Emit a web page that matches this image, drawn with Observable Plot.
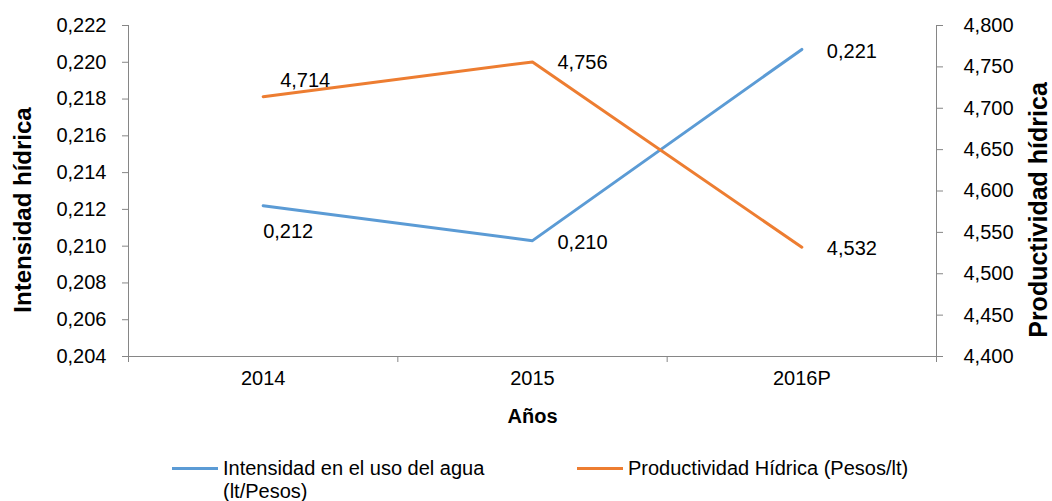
<!DOCTYPE html>
<html>
<head>
<meta charset="utf-8">
<script src="https://cdn.jsdelivr.net/npm/d3@7"></script>
<script src="https://cdn.jsdelivr.net/npm/@observablehq/plot@0.6"></script>
<style>
  html, body { margin: 0; padding: 0; background: #fff; }
  body { width: 1052px; height: 501px; position: relative; overflow: hidden; font-family: "Liberation Sans", Arial, sans-serif; }
  #legend { position: absolute; top: 457px; left: 0; width: 1052px; height: 44px; font-size: 20px; line-height: 23px; color: #000; }
  .item { position: absolute; top: 0; display: flex; align-items: flex-start; }
  .sw { width: 46px; height: 3px; margin-top: 10px; margin-right: 5px; flex: none; }
  .txt { max-width: 300px; }
</style>
</head>
<body>
<div id="chart"></div>
<div id="legend"></div>
<script>
// ---- data ----
const years = ["2014", "2015", "2016P"];
const intensidad = [0.2122, 0.2103, 0.2207];      // lt/Pesos (left axis)
const productividad = [4.714, 4.756, 4.532];      // Pesos/lt (right axis)
const leftTicks = [0.204, 0.206, 0.208, 0.210, 0.212, 0.214, 0.216, 0.218, 0.220, 0.222];
const rightTicks = [4.400, 4.450, 4.500, 4.550, 4.600, 4.650, 4.700, 4.750, 4.800];
const seriesNames = ["Intensidad en el uso del agua (lt/Pesos)", "Productividad Hídrica (Pesos/lt)"];
const leftTitle = "Intensidad hídrica";
const rightTitle = "Productividad hídrica";
const xTitle = "Años";

// ---- styling ----
const blue = "#5B9BD5";
const orange = "#ED7D31";
const axisColor = "#868686";
const fs = 20;

const locale = d3.formatLocale({decimal: ",", thousands: "."});
const fmt = locale.format(".3f");

const L0 = leftTicks[0], L1 = leftTicks[leftTicks.length - 1];
const R0 = rightTicks[0], R1 = rightTicks[rightTicks.length - 1];
const toLeft = v => L0 + (v - R0) / (R1 - R0) * (L1 - L0);
const toRight = v => R0 + (v - L0) / (L1 - L0) * (R1 - R0);

const blueRows = years.map((y, i) => ({i, year: y, v: intensidad[i], yv: intensidad[i]}));
const orangeRows = years.map((y, i) => ({i, year: y, v: productividad[i], yv: toLeft(productividad[i])}));
const bounds = d3.range(years.length + 1).map(k => k - 0.5);

const chart = Plot.plot({
  width: 1052,
  height: 445,
  marginTop: 25,
  marginBottom: 89,
  marginLeft: 128,
  marginRight: 116,
  style: {fontFamily: "'Liberation Sans', Arial, sans-serif", fontSize: fs + "px", color: "#000", background: "#fff"},
  x: {domain: [bounds[0], bounds[bounds.length - 1]]},
  y: {domain: [L0, L1]},
  marks: [
    Plot.ruleY([L0], {stroke: axisColor, strokeWidth: 1}),
    Plot.ruleX([bounds[0], bounds[bounds.length - 1]], {stroke: axisColor, strokeWidth: 1}),
    Plot.axisY(leftTicks, {anchor: "left", tickSize: 6, tickPadding: 16, tickFormat: d => fmt(d), stroke: axisColor, fill: "#000", fontSize: fs, label: null}),
    Plot.axisY(rightTicks.map(toLeft), {anchor: "right", tickSize: 6, tickPadding: 21, tickFormat: d => fmt(toRight(d)), stroke: axisColor, fill: "#000", fontSize: fs, label: null}),
    Plot.axisX(bounds, {anchor: "bottom", tickSize: 6, tickFormat: () => "", stroke: axisColor, label: null}),
    Plot.axisX(years.map((y, i) => i), {anchor: "bottom", tickSize: 0, tickPadding: 14, tickFormat: i => years[i], fill: "#000", fontSize: fs, label: null}),
    Plot.line(blueRows, {x: "i", y: "yv", stroke: blue, strokeWidth: 3}),
    Plot.line(orangeRows, {x: "i", y: "yv", stroke: orange, strokeWidth: 3}),
    // data labels
    Plot.text(blueRows.filter(d => d.i === 0), {x: "i", y: "yv", text: d => fmt(d.v), textAnchor: "start", dx: 0, dy: 26, fontSize: fs, fill: "#000"}),
    Plot.text(blueRows.filter(d => d.i > 0), {x: "i", y: "yv", text: d => fmt(d.v), textAnchor: "start", dx: 25, dy: 2, fontSize: fs, fill: "#000"}),
    Plot.text(orangeRows.filter(d => d.i === 0), {x: "i", y: "yv", text: d => fmt(d.v), textAnchor: "start", dx: 17, dy: -16, fontSize: fs, fill: "#000"}),
    Plot.text(orangeRows.filter(d => d.i > 0), {x: "i", y: "yv", text: d => fmt(d.v), textAnchor: "start", dx: 25, dy: 1, fontSize: fs, fill: "#000"}),
    // axis titles
    Plot.text([leftTitle], {frameAnchor: "left", text: d => d, rotate: -90, textAnchor: "middle", dx: -105, dy: 19, fontSize: 24, fontWeight: "bold", fill: "#000"}),
    Plot.text([rightTitle], {frameAnchor: "right", text: d => d, rotate: -90, textAnchor: "middle", dx: 102, dy: 19, fontSize: 25, fontWeight: "bold", fill: "#000"}),
    Plot.text([xTitle], {frameAnchor: "bottom", text: d => d, dy: 66, fontSize: fs, fontWeight: "bold", fill: "#000"})
  ]
});
document.getElementById("chart").appendChild(chart);

// ---- legend (below the SVG) ----
const legend = document.getElementById("legend");
const items = [
  {name: seriesNames[0], color: blue, left: 172},
  {name: seriesNames[1], color: orange, left: 577}
];
for (const it of items) {
  const div = document.createElement("div");
  div.className = "item";
  div.style.left = it.left + "px";
  const sw = document.createElement("div");
  sw.className = "sw";
  sw.style.background = it.color;
  const t = document.createElement("div");
  t.className = "txt";
  t.textContent = it.name;
  if (it.left > 500) t.style.maxWidth = "none";
  div.appendChild(sw);
  div.appendChild(t);
  legend.appendChild(div);
}
</script>
</body>
</html>
